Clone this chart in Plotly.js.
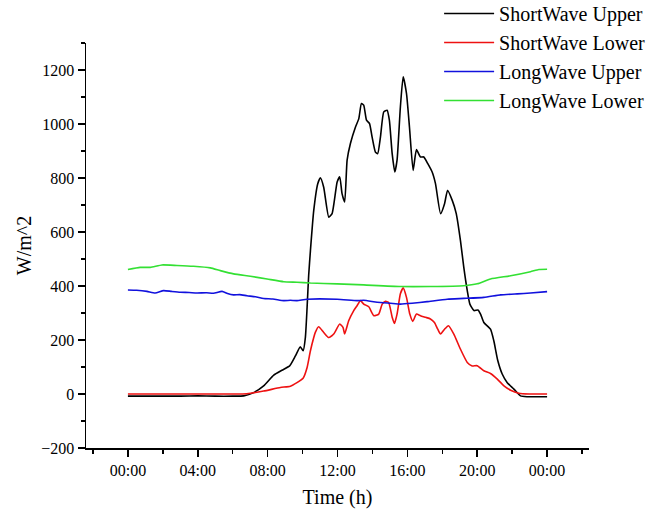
<!DOCTYPE html>
<html>
<head>
<meta charset="utf-8">
<script src="https://cdn.plot.ly/plotly-3.0.1.min.js"></script>
<style>html,body{margin:0;padding:0;background:#fff;}#chart{width:656px;height:514px;}</style>
</head>
<body>
<div id="chart"></div>
<script>
// Time in hours (0 = 00:00, 24 = 00:00 next day)
const swUpperT = [0, 1, 2, 3, 4, 5, 6, 6.63, 7.2, 7.77, 8.35, 8.82, 9.26, 9.59, 9.87, 10.03, 10.16, 10.26, 10.35, 10.45, 10.64, 10.87, 11.02, 11.21, 11.5, 11.69, 11.98, 12.13, 12.26, 12.41, 12.55, 12.74, 13.03, 13.22, 13.37, 13.5, 13.66, 13.83, 13.98, 14.17, 14.3, 14.46, 14.65, 14.84, 14.97, 15.13, 15.28, 15.41, 15.6, 15.76, 15.95, 16.12, 16.33, 16.52, 16.75, 16.94, 17.17, 17.42, 17.61, 17.9, 18.13, 18.3, 18.57, 18.8, 19.04, 19.23, 19.43, 19.58, 19.81, 20.04, 20.19, 20.38, 20.76, 20.95, 21.18, 21.43, 21.72, 22.1, 22.48, 22.87, 23.5, 24];
const swUpper = [-8, -8, -8, -8, -7, -8, -8, -7, 5, 30, 70, 88, 104, 141, 175, 160, 209, 321, 440, 531, 680, 779, 801, 766, 655, 668, 785, 804, 742, 711, 866, 928, 989, 1020, 1076, 1070, 1014, 1002, 952, 896, 890, 952, 1045, 1051, 1014, 890, 822, 866, 1063, 1175, 1113, 989, 828, 905, 878, 878, 853, 822, 779, 668, 705, 754, 717, 668, 568, 470, 383, 333, 309, 311, 296, 265, 240, 197, 123, 74, 42, 18, -7, -10, -10, -10];

const swLowerT = [0, 2, 4, 6, 6.8, 7.77, 8.73, 9.3, 9.68, 10.03, 10.26, 10.45, 10.64, 10.73, 10.92, 11.21, 11.5, 11.78, 12.13, 12.32, 12.41, 12.64, 12.93, 13.12, 13.31, 13.5, 13.79, 14.08, 14.36, 14.56, 14.75, 14.93, 15.13, 15.26, 15.41, 15.6, 15.76, 15.95, 16.14, 16.31, 16.52, 16.75, 17.04, 17.32, 17.55, 17.74, 17.9, 18.13, 18.35, 18.66, 19.04, 19.43, 19.71, 20.0, 20.38, 20.76, 21.15, 21.53, 21.91, 22.38, 23, 24];
const swLower = [0, 0, 0, 0, 1, 11, 24, 29, 42, 58, 98, 160, 209, 228, 249, 228, 209, 222, 259, 246, 222, 271, 309, 327, 346, 333, 323, 290, 296, 333, 343, 339, 284, 261, 296, 371, 393, 358, 296, 269, 296, 290, 284, 278, 265, 240, 222, 240, 253, 222, 166, 117, 104, 105, 86, 76, 55, 30, 14, 3, 0, 0];

const lwUpperT = [0, 0.5, 1.09, 1.56, 2.04, 2.5, 3, 3.5, 3.95, 4.5, 4.9, 5.39, 5.7, 6.05, 6.4, 6.82, 7.3, 7.77, 8.3, 8.92, 9.3, 9.68, 10.26, 11.98, 13.12, 13.5, 14.27, 15.03, 15.6, 16.27, 17.13, 18.28, 19.23, 20.38, 21.34, 22.29, 23.05, 24];
const lwUpper = [385, 384, 380, 374, 383, 380, 377, 376, 374, 375, 373, 380, 372, 367, 368, 364, 360, 354, 352, 346, 347, 346, 351, 351, 346, 347, 340, 336, 333, 336, 342, 351, 354, 358, 367, 371, 374, 379];

const lwLowerT = [0, 0.7, 1.28, 1.95, 2.81, 3.76, 4.72, 5.29, 6.05, 7.01, 7.97, 8.92, 9.68, 10.45, 11.98, 13.5, 15.6, 17.32, 19.23, 20.0, 20.76, 21.91, 23.05, 23.53, 24];
const lwLower = [461, 469, 469, 478, 476, 473, 467, 457, 445, 436, 426, 416, 414, 411, 408, 404, 398, 398, 401, 408, 426, 438, 453, 461, 462];

const seriesNames = ["ShortWave Upper", "ShortWave Lower", "LongWave Upper", "LongWave Lower"];
const seriesColors = ["#000000", "#ee1111", "#1111dd", "#33e033"];

const xTickVals = [0, 4, 8, 12, 16, 20, 24];
const xTickText = ["00:00", "04:00", "08:00", "12:00", "16:00", "20:00", "00:00"];

const xs = [swUpperT, swLowerT, lwUpperT, lwLowerT];
const ys = [swUpper, swLower, lwUpper, lwLower];

const traces = seriesNames.map((n, i) => ({
  x: xs[i], y: ys[i], name: n, type: 'scatter', mode: 'lines',
  line: {color: seriesColors[i], width: 1.6, shape: 'spline', smoothing: 0.5}
}));

const font = "Liberation Serif, Times New Roman, serif";
const layout = {
  width: 656, height: 514,
  margin: {l: 86, r: 67, t: 43, b: 66, autoexpand: false},
  paper_bgcolor: '#fff', plot_bgcolor: '#fff',
  font: {family: font, color: '#000', size: 16},
  showlegend: true,
  legend: {x: 0.702, y: 1.121, xanchor: 'left', yanchor: 'top', bgcolor: 'rgba(0,0,0,0)',
           font: {family: font, size: 20, color: '#000'}, itemwidth: 50, tracegroupgap: 0},
  xaxis: {
    range: [-2.4, 26.4], tickmode: 'array', tickvals: xTickVals, ticktext: xTickText,
    showgrid: false, zeroline: false, showline: true, linecolor: '#000', linewidth: 1.5,
    ticks: 'outside', ticklen: 7, tickwidth: 1.5, tickcolor: '#000',
    minor: {tickmode: 'linear', tick0: 0, dtick: 2, ticklen: 4, tickwidth: 1.5, tickcolor: '#000', showgrid: false},
    tickfont: {family: font, size: 16}, automargin: false,
    title: {text: 'Time (h)', font: {family: font, size: 20}, standoff: 12}
  },
  yaxis: {
    range: [-200, 1300], tickmode: 'linear', tick0: 0, dtick: 200,
    showgrid: false, zeroline: false, showline: true, linecolor: '#000', linewidth: 1.5,
    ticks: 'outside', ticklen: 7, tickwidth: 1.5, tickcolor: '#000',
    minor: {tickmode: 'linear', tick0: 0, dtick: 100, ticklen: 4, tickwidth: 1.5, tickcolor: '#000', showgrid: false},
    tickfont: {family: font, size: 16}, automargin: false,
    title: {text: 'W/m^2', font: {family: font, size: 20}, standoff: 4}
  }
};

Plotly.newPlot('chart', traces, layout, {displayModeBar: false, staticPlot: true});
</script>
</body>
</html>
